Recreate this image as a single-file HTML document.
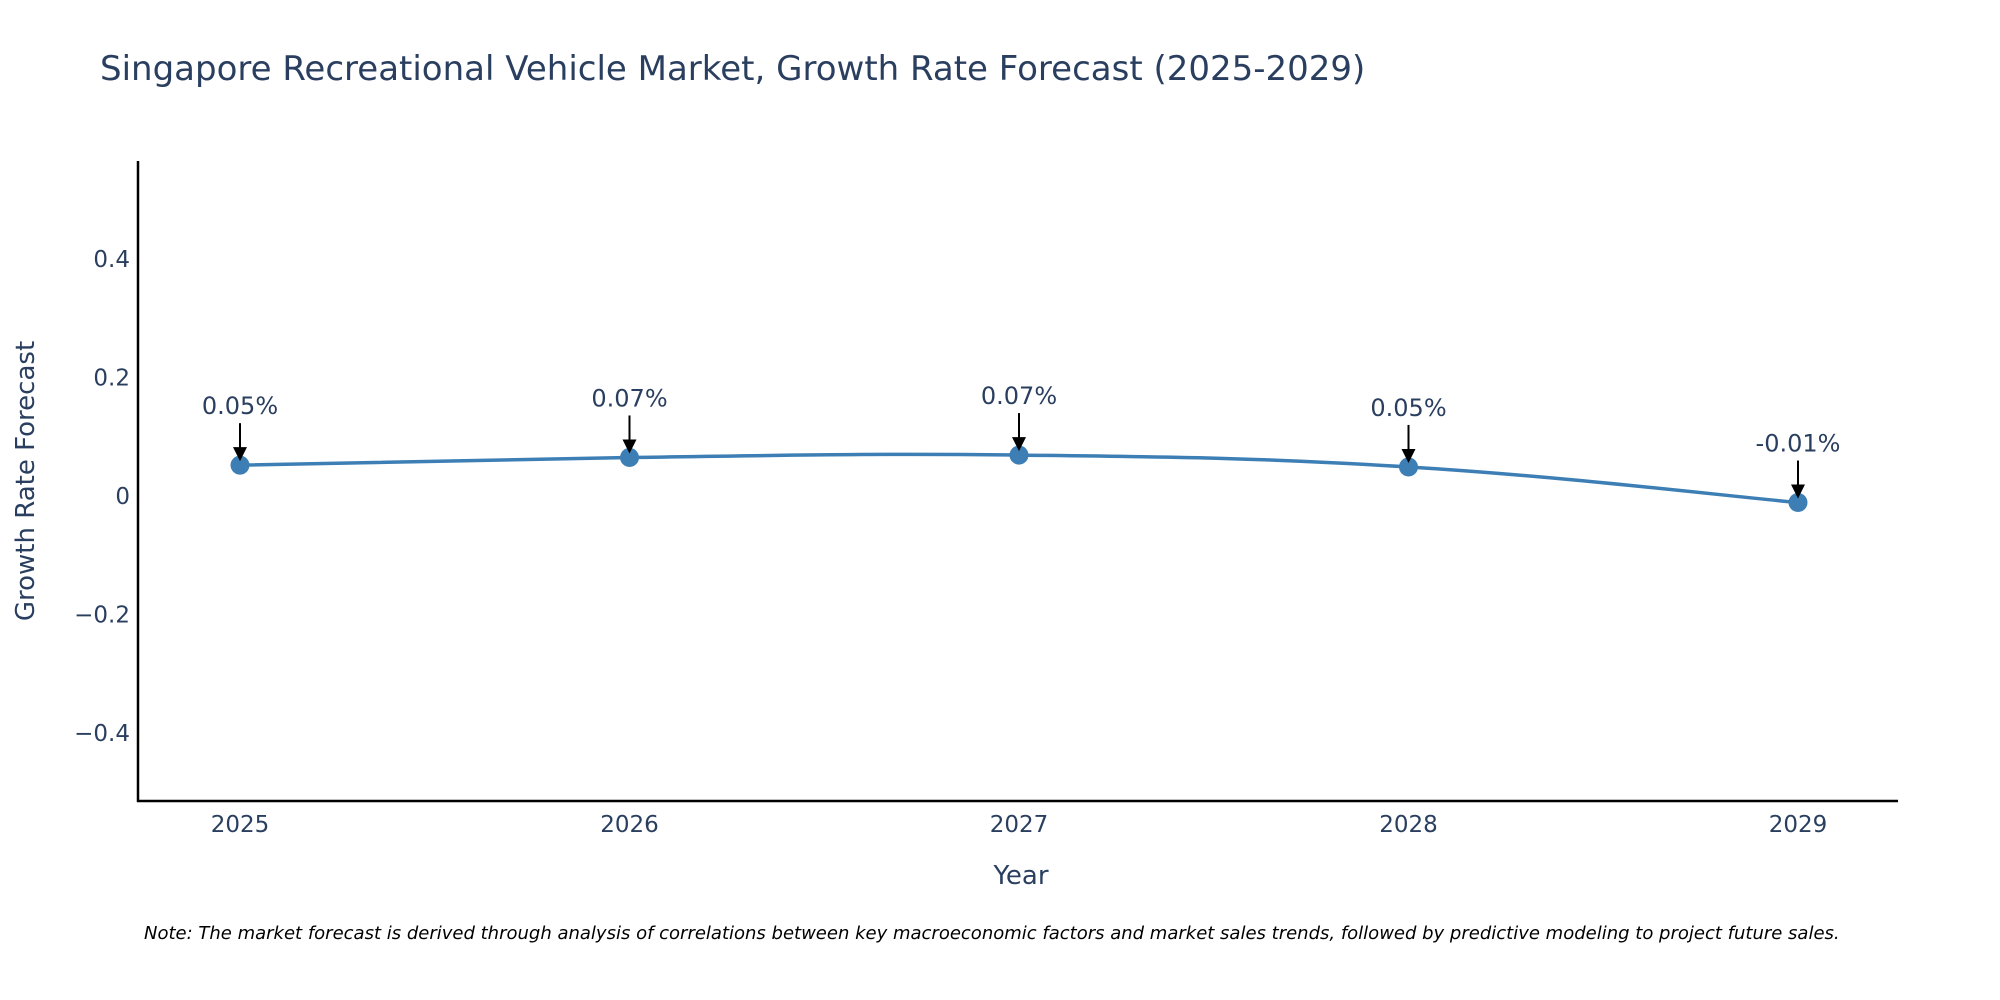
<!DOCTYPE html>
<html><head><meta charset="utf-8"><style>
html,body{margin:0;padding:0;background:#fff;}
svg{display:block;font-family:"DejaVu Sans","Liberation Sans",sans-serif;}
</style></head><body>
<svg id="chart" width="2000" height="1000" viewBox="0 0 2000 1000" xmlns="http://www.w3.org/2000/svg">
<text x="100" y="80" font-size="34" fill="#2a3f5f">Singapore Recreational Vehicle Market, Growth Rate Forecast (2025-2029)</text>
<g id="yticks"></g>
<g id="xticks"></g>
<line x1="138" y1="161" x2="138" y2="802" stroke="#000" stroke-width="2.5"/>
<line x1="137" y1="801" x2="1898" y2="801" stroke="#000" stroke-width="2.5"/>
<path id="line" fill="none" stroke="#3d7fb5" stroke-width="3.5"/>
<g id="points"></g>
<g id="annots"></g>
<text x="1021" y="884" font-size="26" fill="#2a3f5f" text-anchor="middle">Year</text>
<text x="34" y="481" font-size="26" fill="#2a3f5f" text-anchor="middle" transform="rotate(-90 34 481)">Growth Rate Forecast</text>
<text x="144" y="939" font-size="18" font-style="italic" fill="#000">Note: The market forecast is derived through analysis of correlations between key macroeconomic factors and market sales trends, followed by predictive modeling to project future sales.</text>
</svg>
<script>
const years = [2025, 2026, 2027, 2028, 2029];
const growth = [0.052, 0.065, 0.069, 0.049, -0.011];
const labels = ["0.05%", "0.07%", "0.07%", "0.05%", "-0.01%"];
const yTickVals = [0.4, 0.2, 0, -0.2, -0.4];
const yTickText = ["0.4", "0.2", "0", "\u22120.2", "\u22120.4"];

const NS = "http://www.w3.org/2000/svg";
function xs(v){ return 240 + (v - 2025) * (1798 - 240) / 4; }
function ys(v){ return 496 - v * 593; }
function mk(tag, attrs, parent){
  const e = document.createElementNS(NS, tag);
  for (const k in attrs) e.setAttribute(k, attrs[k]);
  parent.appendChild(e); return e;
}
const yt = document.getElementById('yticks');
yTickVals.forEach((v,i)=>{
  const t = mk('text', {x:130, y:ys(v)+8, 'font-size':23, fill:'#2a3f5f', 'text-anchor':'end'}, yt);
  
  
  t.textContent = yTickText[i];
});
const xt = document.getElementById('xticks');
years.forEach(v=>{
  const t = mk('text', {x:xs(v), y:832, 'font-size':23, fill:'#2a3f5f', 'text-anchor':'middle'}, xt);
  
  
  t.textContent = String(v);
});
const P = years.map((y,i)=>[xs(y), ys(growth[i])]);
let d = 'M' + P[0][0] + ',' + P[0][1];
for (let i=0;i<P.length-1;i++){
  const p0=P[Math.max(0,i-1)], p1=P[i], p2=P[i+1], p3=P[Math.min(P.length-1,i+2)];
  const s=0.2;
  const c1=[p1[0]+(p2[0]-p0[0])*s, p1[1]+(p2[1]-p0[1])*s];
  const c2=[p2[0]-(p3[0]-p1[0])*s, p2[1]-(p3[1]-p1[1])*s];
  d += ' C'+c1[0]+','+c1[1]+' '+c2[0]+','+c2[1]+' '+p2[0]+','+p2[1];
}
document.getElementById('line').setAttribute('d', d);
const pts = document.getElementById('points');
const an = document.getElementById('annots');
years.forEach((y,i)=>{
  const cx = xs(y), cy = ys(growth[i]);
  const c = mk('circle', {cx:cx, cy:cy, r:9.5, fill:'#3d7fb5'}, pts);
  
  
  const l = mk('line', {x1:cx, y1:cy-42, x2:cx, y2:cy-16, stroke:'#000', 'stroke-width':2}, an);
  
  
  const h = mk('path', {d:'M'+(cx-7)+','+(cy-18)+' L'+(cx+7)+','+(cy-18)+' L'+cx+','+(cy-4)+' Z', fill:'#000'}, an);
  
  
  const t = mk('text', {x:cx, y:cy-51, 'font-size':24, fill:'#2a3f5f', 'text-anchor':'middle'}, an);
  
  
  t.textContent = labels[i];
});
</script>
</body></html>
